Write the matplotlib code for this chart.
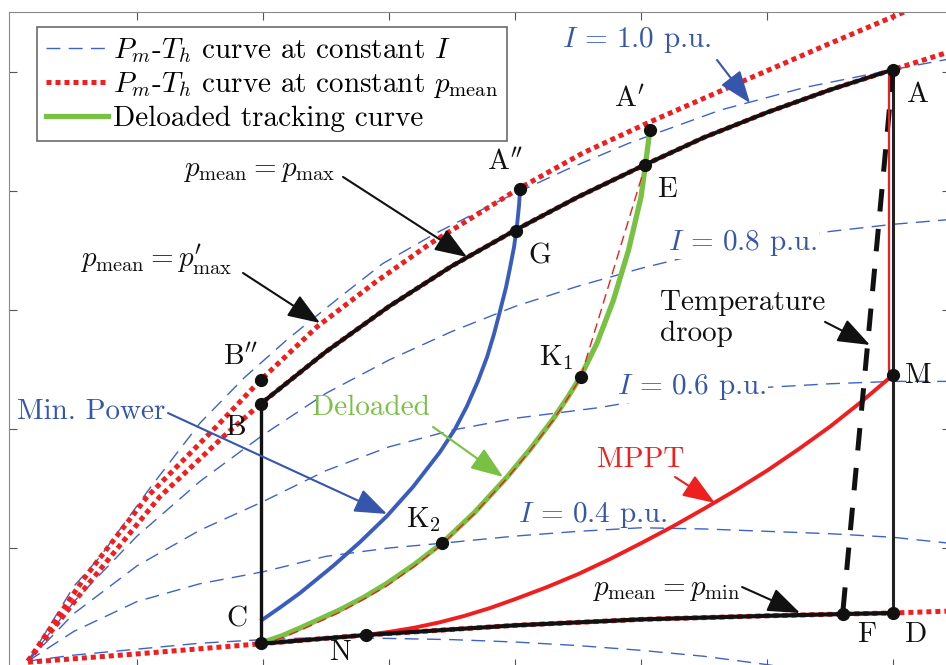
import matplotlib
matplotlib.use('Agg')
import matplotlib.pyplot as plt
from matplotlib.lines import Line2D

plt.rcParams['font.family'] = 'cmr10'
plt.rcParams['mathtext.fontset'] = 'cm'
plt.rcParams['axes.unicode_minus'] = False

# ---- data (T_h on x, P_m on y, arbitrary units) ----
# constant current curves
i10_x = [0.135, 0.5, 0.71, 1.1, 1.5, 1.85, 2.19, 2.6, 2.95, 3.38, 3.9, 4.41, 4.9, 5.63, 6.3, 7.0, 7.45]
i10_y = [0.05, 0.68, 0.93, 1.5, 2.05, 2.43, 2.75, 3.1, 3.39, 3.65, 3.93, 4.18, 4.4, 4.68, 4.87, 5.02, 5.11]
i08_x = [0.135, 0.5, 1.0, 1.5, 2.0, 2.5, 3.0, 3.5, 4.0, 4.5, 5.0, 5.5, 6.0, 6.5, 7.0, 7.45]
i08_y = [0.05, 0.55, 1.1, 1.56, 1.95, 2.3, 2.58, 2.82, 3.03, 3.2, 3.35, 3.48, 3.58, 3.66, 3.72, 3.76]
i06_x = [0.135, 0.5, 1.0, 1.5, 2.0, 2.5, 3.0, 3.5, 4.0, 4.67, 5.0, 5.5, 6.0, 6.5, 7.0, 7.45]
i06_y = [0.05, 0.45, 0.85, 1.15, 1.39, 1.65, 1.85, 1.99, 2.09, 2.18, 2.24, 2.3, 2.35, 2.38, 2.4, 2.4]
i04_x = [0.135, 0.5, 1.0, 1.5, 2.0, 2.5, 3.0, 3.42, 4.0, 4.5, 5.0, 5.5, 6.0, 6.5, 7.0, 7.45]
i04_y = [0.05, 0.3, 0.55, 0.7, 0.8, 0.93, 1.0, 1.04, 1.1, 1.14, 1.17, 1.16, 1.14, 1.12, 1.09, 1.04]
i02_x = [0.135, 0.5, 1.0, 1.5, 2.0, 2.5, 3.0, 3.5, 4.0, 4.5, 5.0, 5.5, 6.0, 6.3]
i02_y = [0.05, 0.1, 0.15, 0.2, 0.23, 0.25, 0.24, 0.23, 0.21, 0.18, 0.14, 0.09, 0.02, -0.03]

# constant p_mean curves
pmaxp_x = [0.135, 0.57, 1.08, 1.63, 1.98, 2.43, 2.9, 3.33, 4.03, 4.54, 5.07, 5.89, 6.5, 7.08, 7.45]
pmaxp_y = [0.05, 0.73, 1.43, 2.02, 2.41, 2.86, 3.24, 3.56, 4.02, 4.32, 4.58, 4.96, 5.24, 5.5, 5.65]
pmax_x = [0.135, 0.6, 1.18, 1.7, 1.98, 2.5, 3.0, 3.5, 4.0, 4.5, 5.03, 5.5, 6.0, 6.5, 7.0, 7.45]
pmax_y = [0.05, 0.68, 1.43, 1.95, 2.21, 2.65, 3.03, 3.37, 3.67, 3.95, 4.22, 4.45, 4.66, 4.85, 5.02, 5.17]
pmin_x = [0.135, 1.0, 1.98, 2.82, 4.0, 5.0, 6.0, 6.6, 7.0, 7.45]
pmin_y = [0.04, 0.11, 0.195, 0.269, 0.35, 0.4, 0.43, 0.445, 0.454, 0.47]

# tracking curves
deload_x = [1.98, 2.15, 2.3, 2.61, 2.8, 2.98, 3.2, 3.42, 3.68, 3.94, 4.12, 4.3, 4.42, 4.52,
            4.65, 4.78, 4.9, 5.0, 5.035, 5.07]
deload_y = [0.2, 0.262, 0.33, 0.48, 0.585, 0.7, 0.86, 1.04, 1.3, 1.6, 1.83, 2.08, 2.27, 2.44,
            2.72, 3.08, 3.5, 3.95, 4.22, 4.51]
deref_x = [1.98, 2.15, 2.3, 2.61, 2.8, 2.98, 3.2, 3.42, 3.68, 3.94, 4.12, 4.3, 4.42, 4.52, 5.035]
deref_y = [0.18, 0.245, 0.31, 0.46, 0.57, 0.68, 0.845, 1.03, 1.29, 1.59, 1.82, 2.07, 2.26, 2.43, 4.22]
minpow_x = [1.992, 2.135, 2.294, 2.556, 2.77, 2.984, 3.19, 3.405, 3.524, 3.619, 3.706, 3.778,
            3.833, 3.881, 3.929, 3.96, 3.992, 4.016, 4.032, 4.04]
minpow_y = [0.395, 0.5, 0.622, 0.849, 1.05, 1.269, 1.513, 1.807, 2.0, 2.193, 2.403, 2.605,
            2.798, 2.992, 3.193, 3.353, 3.529, 3.714, 3.882, 4.017]
mppt_x = [2.82, 3.0, 3.2, 3.4, 3.6, 3.8, 4.0, 4.25, 4.5, 4.75, 5.0, 5.25, 5.5, 5.75, 6.0,
          6.25, 6.5, 6.75, 7.0]
mppt_y = [0.269, 0.295, 0.33, 0.375, 0.43, 0.495, 0.57, 0.67, 0.78, 0.905, 1.04, 1.18, 1.33,
          1.485, 1.65, 1.83, 2.02, 2.23, 2.454]
droop_x = [7.0, 6.6]
droop_y = [5.02, 0.445]

# operating points
pt_x = [7.0, 5.07, 4.04, 5.035, 4.008, 1.98, 1.98, 1.98, 2.82, 6.6, 7.0, 7.0, 4.52, 3.42]
pt_y = [5.02, 4.51, 4.017, 4.22, 3.664, 2.41, 2.21, 0.2, 0.269, 0.445, 0.454, 2.454, 2.44, 1.042]
pt_labels = [r'A', r"$\mathrm{A}'$", r"$\mathrm{A}''$", r'E', r'G', r"$\mathrm{B}''$", r'B', r'C',
             r'N', r'F', r'D', r'M', r'$\mathrm{K}_1$', r'$\mathrm{K}_2$']
lab_x = [7.2, 4.91, 3.92, 5.21, 4.2, 1.82, 1.79, 1.79, 2.61, 6.79, 7.18, 7.2, 4.33, 3.27]
lab_y = [4.81, 4.77, 4.24, 4.01, 3.45, 2.6, 2.01, 0.4, 0.12, 0.27, 0.27, 2.45, 2.6, 1.24]

BLUE = '#3d63c8'
BLUE_T = '#3656ad'
RED = '#f01e1e'
GREEN = '#79c142'

fig = plt.figure(figsize=(9.46, 6.65), dpi=100)
ax = fig.add_axes([9 / 946, -2 / 665, 941 / 946, 655 / 665])
ax.set_xlim(-0.016, 7.452)
ax.set_ylim(0, 5.504)
ax.set_xticks(range(1, 8))
ax.set_yticks(range(1, 6))
ax.tick_params(direction='in', length=6, width=0.8, color='#555555', top=True, right=True,
               labelbottom=False, labelleft=False)
for s in ax.spines.values():
    s.set_color('#888888')
    s.set_linewidth(0.8)

dash = (0, (10, 6))
dot = (0, (1, 0.8))
for cx, cy in [(i10_x, i10_y), (i08_x, i08_y), (i06_x, i06_y), (i04_x, i04_y), (i02_x, i02_y)]:
    ax.plot(cx, cy, color=BLUE, lw=1.0, ls=dash, zorder=1)

for cx, cy in [(pmaxp_x, pmaxp_y), (pmax_x, pmax_y), (pmin_x, pmin_y)]:
    ax.plot(cx, cy, color=RED, lw=3.6, ls=dot, zorder=2)

ax.plot(deload_x, deload_y, color=GREEN, lw=3.8, zorder=3, solid_capstyle='butt')
ax.plot(deref_x, deref_y, color=RED, lw=1.0, ls=(0, (7, 4)), zorder=3.5)
ax.plot(minpow_x, minpow_y, color='#3a5cbc', lw=2.8, zorder=3)
ax.plot(mppt_x, mppt_y, color=RED, lw=2.8, zorder=3)

# boundary of the operating region
bx = [x for x in pmax_x if 1.97 <= x <= 7.0]
by = [y for x, y in zip(pmax_x, pmax_y) if 1.97 <= x <= 7.0]
ax.plot(bx, by, color='#111111', lw=2.9, zorder=4)
cx = [x for x in pmin_x if 1.97 <= x <= 7.0]
cy = [y for x, y in zip(pmin_x, pmin_y) if 1.97 <= x <= 7.0]
ax.plot(cx, cy, color='#111111', lw=3.0, zorder=4)
ax.plot([pt_x[6], pt_x[7]], [pt_y[6], pt_y[7]], color='#111111', lw=2.4, zorder=4)
ax.plot([pt_x[0], pt_x[10]], [pt_y[0], pt_y[10]], color='#222222', lw=2.2, zorder=4)
ax.plot([pt_x[0] - 0.03, pt_x[11] - 0.03], [pt_y[0], pt_y[11]], color=RED, lw=1.6, zorder=4.2)
ax.plot(droop_x, droop_y, color='#111111', lw=3.6, ls=(0, (4.5, 3.5)), zorder=4)

ax.plot(pt_x, pt_y, 'o', color='#111111', ms=8.5, zorder=5)
for lab, x, y in zip(pt_labels, lab_x, lab_y):
    ax.text(x, y, lab, fontsize=21, ha='center', va='center', color='#111111', zorder=6)


def note(text, tail, head, color, tx, ty, ha='left'):
    ax.annotate('', xy=head, xytext=tail, zorder=6,
                arrowprops=dict(arrowstyle='-|>,head_length=0.8,head_width=0.3',
                                mutation_scale=25, color=color, lw=1.5,
                                shrinkA=0, shrinkB=0))
    ax.text(tx, ty, text, fontsize=21, color=color, ha=ha, va='center', zorder=6)


note(r'$I\,=\,1.0$ p.u.', (5.603, 5.101), (5.865, 4.739), BLUE_T, 4.373, 5.27)
note('Temperature\ndroop', (6.46, 2.90), (6.817, 2.706), '#111111', 5.151, 2.93)
note('MPPT', (5.27, 1.597), (5.587, 1.378), RED, 4.651, 1.74)
note('Deloaded', (3.349, 2.017), (3.905, 1.597), GREEN, 2.389, 2.176)
note('Min. Power', (1.246, 2.134), (2.984, 1.286), BLUE_T, 0.048, 2.143)
note(r'$p_\mathrm{mean} = p_\mathrm{max}$', (2.635, 4.118), (3.619, 3.445), '#111111', 1.365, 4.17)
note(r'$p_\mathrm{mean} = p^{\prime}_\mathrm{max}$', (1.841, 3.311), (2.452, 2.891), '#111111', 0.548, 3.42)
note(r'$p_\mathrm{mean} = p_\mathrm{min}$', (5.802, 0.672), (6.262, 0.454), '#111111', 5.79, 0.65, ha='right')

ax.text(5.214, 3.563, r'$I\,=\,0.8$ p.u.', fontsize=21, color=BLUE_T, va='center', zorder=6,
        bbox=dict(facecolor='white', edgecolor='none', pad=1))
ax.text(4.81, 2.353, r'$I\,=\,0.6$ p.u.', fontsize=21, color=BLUE_T, va='center', zorder=6,
        bbox=dict(facecolor='white', edgecolor='none', pad=1))
ax.text(4.024, 1.28, r'$I\,=\,0.4$ p.u.', fontsize=21, color=BLUE_T, va='center', zorder=6)

handles = [Line2D([], [], color=BLUE, lw=1.0, ls=dash),
           Line2D([], [], color=RED, lw=3.6, ls=dot),
           Line2D([], [], color=GREEN, lw=3.8)]
labels = [r'$P_m$-$T_h$ curve at constant $I$',
          r'$P_m$-$T_h$ curve at constant $p_\mathrm{mean}$',
          'Deloaded tracking curve']
leg = fig.legend(handles, labels, loc='upper left', bbox_to_anchor=(37 / 946, 1 - 27 / 665),
                 fontsize=21, frameon=True, fancybox=False, borderaxespad=0, borderpad=0.3,
                 handlelength=2.15, handletextpad=0.15, labelspacing=0.19)
leg.get_frame().set_edgecolor('#444444')
leg.get_frame().set_linewidth(1.2)
leg.set_zorder(10)

fig.savefig('out.png', dpi=100)
